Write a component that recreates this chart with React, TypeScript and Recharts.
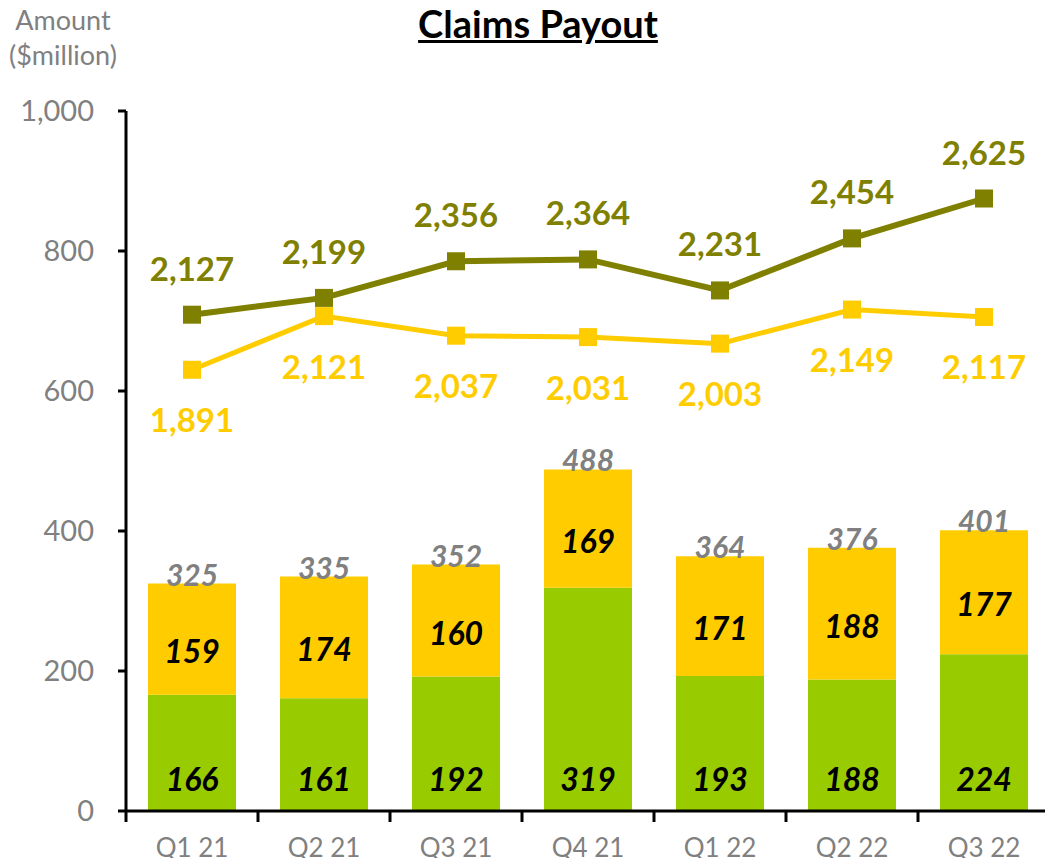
import React from 'react';
import { Bar, ComposedChart, LabelList, Line, XAxis, YAxis } from 'recharts';

const quarters = ['Q1 21', 'Q2 21', 'Q3 21', 'Q4 21', 'Q1 22', 'Q2 22', 'Q3 22'];
const greenBars = [166, 161, 192, 319, 193, 188, 224];
const yellowBars = [159, 174, 160, 169, 171, 188, 177];
const barTotals = [325, 335, 352, 488, 364, 376, 401];
const oliveLine = [2127, 2199, 2356, 2364, 2231, 2454, 2625];
const yellowLine = [1891, 2121, 2037, 2031, 2003, 2149, 2117];
const leftTicks = [0, 200, 400, 600, 800, 1000];

const GREEN = '#99CC00';
const YELLOW = '#FFCC00';
const OLIVE = '#808000';
const GREY = '#808080';

const fmt = (v: number) => Number(v).toLocaleString('en-US');

const chartData = quarters.map((q, i) => ({
  quarter: q,
  green: greenBars[i],
  yellow: yellowBars[i],
  total: barTotals[i],
  olive: oliveLine[i],
  yellowLine: yellowLine[i],
}));

const Square = (color: string) => (props: any) => {
  const { cx, cy } = props;
  if (cx == null || cy == null) return null;
  return <rect x={cx - 9} y={cy - 9} width={18} height={18} fill={color} />;
};

// tick marks sit between categories, like the original
const QuarterTick = (props: any) => {
  const { x, y, payload, index } = props;
  const half = payload && payload.offset ? payload.offset : 66;
  return (
    <g>
      <line x1={x - half} x2={x - half} y1={y - 2} y2={y + 9} stroke="#000" strokeWidth={3} />
      {index === quarters.length - 1 && (
        <line x1={x + half} x2={x + half} y1={y - 2} y2={y + 9} stroke="#000" strokeWidth={3} />
      )}
      <text x={x} y={y + 44} textAnchor="middle" fill={GREY} fontSize={26}>
        {payload.value}
      </text>
    </g>
  );
};

const GreenLabel = (props: any) => {
  const { x, y, width, height, value } = props;
  return (
    <text x={x + width / 2} y={y + height - 20} textAnchor="middle" fill="#000"
      fontSize={32} fontWeight="bold" fontStyle="italic">
      {value}
    </text>
  );
};

const YellowLabel = (props: any) => {
  const { x, y, width, height, value } = props;
  return (
    <text x={x + width / 2} y={y + height / 2 + 24} textAnchor="middle" fill="#000"
      fontSize={32} fontWeight="bold" fontStyle="italic">
      {value}
    </text>
  );
};

const TotalLabel = (props: any) => {
  const { x, y, width, index } = props;
  return (
    <text x={x + width / 2} y={y + 2} textAnchor="middle" fill={GREY}
      fontSize={30} fontWeight="bold" fontStyle="italic">
      {barTotals[index]}
    </text>
  );
};

export default function App() {
  return (
    <div style={{ position: 'relative', width: 1053, height: 866, margin: -8, fontFamily: 'Lato, sans-serif', background: '#fff' }}>
      <div style={{ position: 'absolute', left: 0, top: 0, width: 1053, textAlign: 'center', paddingLeft: 23, boxSizing: 'border-box' }}>
        <span style={{ fontSize: 38, fontWeight: 'bold', textDecoration: 'underline', color: '#000' }}>
          Claims Payout
        </span>
      </div>
      <div style={{ position: 'absolute', left: 9, top: 2, color: GREY, fontSize: 27, lineHeight: '35px', textAlign: 'center' }}>
        Amount
        <br />
        ($million)
      </div>
      <ComposedChart width={1053} height={866} data={chartData}
        margin={{ top: 111, right: 2, bottom: 5, left: 0 }}>
        <XAxis dataKey="quarter" height={50} tickSize={0} tickLine={false}
          axisLine={{ stroke: '#000', strokeWidth: 3 }} tick={<QuarterTick />} interval={0} />
        <YAxis yAxisId="left" width={126} domain={[0, 1000]} ticks={leftTicks}
          tickFormatter={fmt} tickSize={8} tickMargin={24}
          axisLine={{ stroke: '#000', strokeWidth: 3 }}
          tickLine={{ stroke: '#000', strokeWidth: 3 }}
          tick={{ fill: GREY, fontSize: 29 }} />
        <YAxis yAxisId="right" orientation="right" width={1} domain={[0, 3000]}
          tick={false} tickLine={false} axisLine={{ stroke: '#b0b0b0', strokeWidth: 2 }} />
        <Bar yAxisId="left" dataKey="green" stackId="a" fill={GREEN} barSize={88} isAnimationActive={false}>
          <LabelList dataKey="green" content={<GreenLabel />} />
        </Bar>
        <Bar yAxisId="left" dataKey="yellow" stackId="a" fill={YELLOW} barSize={88} isAnimationActive={false}>
          <LabelList dataKey="yellow" content={<YellowLabel />} />
          <LabelList dataKey="total" content={<TotalLabel />} />
        </Bar>
        <Line yAxisId="right" dataKey="yellowLine" stroke={YELLOW} strokeWidth={5}
          dot={Square(YELLOW)} activeDot={false} isAnimationActive={false}>
          <LabelList dataKey="yellowLine" position="bottom" offset={39} formatter={fmt}
            fill={YELLOW} fontSize={33} fontWeight="bold" />
        </Line>
        <Line yAxisId="right" dataKey="olive" stroke={OLIVE} strokeWidth={6}
          dot={Square(OLIVE)} activeDot={false} isAnimationActive={false}>
          <LabelList dataKey="olive" position="top" offset={34} formatter={fmt}
            fill={OLIVE} fontSize={33} fontWeight="bold" />
        </Line>
      </ComposedChart>
    </div>
  );
}
